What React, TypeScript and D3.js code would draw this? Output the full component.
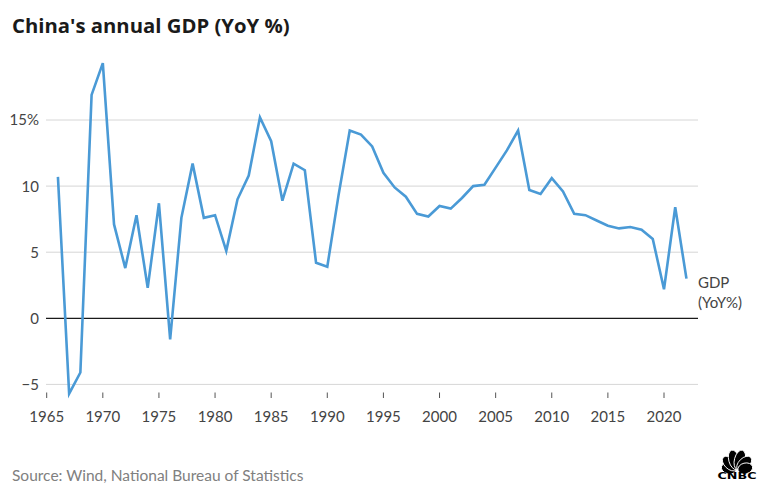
import React from "react";
import * as d3 from "d3";

const years: number[] = [
  1966, 1967, 1968, 1969, 1970, 1971, 1972, 1973, 1974, 1975, 1976, 1977, 1978, 1979,
  1980, 1981, 1982, 1983, 1984, 1985, 1986, 1987, 1988, 1989, 1990, 1991, 1992, 1993,
  1994, 1995, 1996, 1997, 1998, 1999, 2000, 2001, 2002, 2003, 2004, 2005, 2006, 2007,
  2008, 2009, 2010, 2011, 2012, 2013, 2014, 2015, 2016, 2017, 2018, 2019, 2020, 2021, 2022,
];
const gdpGrowth: number[] = [
  10.7, -5.7, -4.1, 16.9, 19.3, 7.1, 3.8, 7.8, 2.3, 8.7, -1.6, 7.6, 11.7, 7.6,
  7.8, 5.1, 9.0, 10.8, 15.2, 13.4, 8.9, 11.7, 11.2, 4.2, 3.9, 9.3, 14.2, 13.9,
  13.0, 11.0, 9.9, 9.2, 7.9, 7.7, 8.5, 8.3, 9.1, 10.0, 10.1, 11.4, 12.7, 14.2,
  9.7, 9.4, 10.6, 9.6, 7.9, 7.8, 7.4, 7.0, 6.8, 6.9, 6.7, 6.0, 2.2, 8.4, 3.0,
];
const xTicks: number[] = [1965, 1970, 1975, 1980, 1985, 1990, 1995, 2000, 2005, 2010, 2015, 2020];
const yTicks: number[] = [-5, 0, 5, 10, 15];
const yTickLabels: string[] = ["\u22125", "0", "5", "10", "15%"];
const title = "China's annual GDP (YoY %)";
const seriesLabel: string[] = ["GDP", "(YoY%)"];
const source = "Source: Wind, National Bureau of Statistics";

const W = 768;
const H = 496;
const FONT = "Lato, 'Open Sans', sans-serif";

export default function App() {
  const x = d3.scaleLinear().domain([1965, 2020]).range([46.7, 664]);
  const y = d3.scaleLinear().domain([0, 15]).range([318.3, 120]);
  const gridX0 = 46;
  const gridX1 = 698;

  const data = years.map((yr, i) => ({ yr, v: gdpGrowth[i] }));
  const line = d3
    .line<{ yr: number; v: number }>()
    .x((d) => x(d.yr))
    .y((d) => y(d.v))
    .curve(d3.curveLinear);

  // CNBC peacock feathers, radiating from a base point
  const bx = 737;
  const by = 470.5;
  const feathers = [
    { a: -76, len: 15 },
    { a: -46, len: 18 },
    { a: -15, len: 20 },
    { a: 15, len: 20 },
    { a: 46, len: 18 },
    { a: 76, len: 15 },
  ];

  return (
    <svg
      width={W}
      height={H}
      style={{ position: "absolute", left: 0, top: 0, background: "#fff" }}
    >
      <rect width={W} height={H} fill="#fff" />
      <text x={12} y={33} fontFamily="'Open Sans', Lato, sans-serif" fontWeight={700} fontSize={20.3} fill="#1a1a1a">
        {title}
      </text>

      {yTicks.map((t) => (
        <line
          key={"g" + t}
          x1={gridX0}
          x2={gridX1}
          y1={y(t)}
          y2={y(t)}
          stroke={t === 0 ? "#1a1a1a" : "#d6d6d6"}
          strokeWidth={t === 0 ? 1.3 : 1}
        />
      ))}
      {yTicks.map((t, i) => (
        <text
          key={"yl" + t}
          x={39}
          y={y(t)}
          dy="0.36em"
          textAnchor="end"
          fontFamily={FONT}
          fontSize={15}
          fill="#444"
        >
          {yTickLabels[i]}
        </text>
      ))}

      {xTicks.map((t) => (
        <g key={"x" + t}>
          <line x1={x(t)} x2={x(t)} y1={392.5} y2={398} stroke="#555" strokeWidth={1} />
          <text
            x={x(t)}
            y={421.5}
            textAnchor="middle"
            fontFamily={FONT}
            fontSize={15}
            fill="#444"
          >
            {t}
          </text>
        </g>
      ))}

      <path
        d={line(data) || ""}
        fill="none"
        stroke="#4a9ad6"
        strokeWidth={2.6}
        strokeLinejoin="miter"
      />

      <text x={698} y={288} fontFamily={FONT} fontSize={15} fill="#444">
        {seriesLabel[0]}
      </text>
      <text x={698} y={308} fontFamily={FONT} fontSize={15} fill="#444">
        {seriesLabel[1]}
      </text>

      <text x={12} y={480.5} fontFamily={FONT} fontSize={15.5} fill="#808080">
        {source}
      </text>

      <g>
        {feathers.map((f, i) => (
          <ellipse
            key={"f" + i}
            cx={bx}
            cy={by - f.len / 2 - 1}
            rx={5.4}
            ry={f.len / 2}
            transform={`rotate(${f.a} ${bx} ${by})`}
            fill="#000"
            stroke="#fff"
            strokeWidth={0.9}
          />
        ))}
        <text
          x={bx}
          y={479}
          textAnchor="middle"
          fontFamily="'DejaVu Sans', sans-serif"
          fontWeight={700}
          fontSize={9}
          textLength={39}
          lengthAdjust="spacingAndGlyphs"
          fill="#000"
        >
          CNBC
        </text>
      </g>
    </svg>
  );
}
